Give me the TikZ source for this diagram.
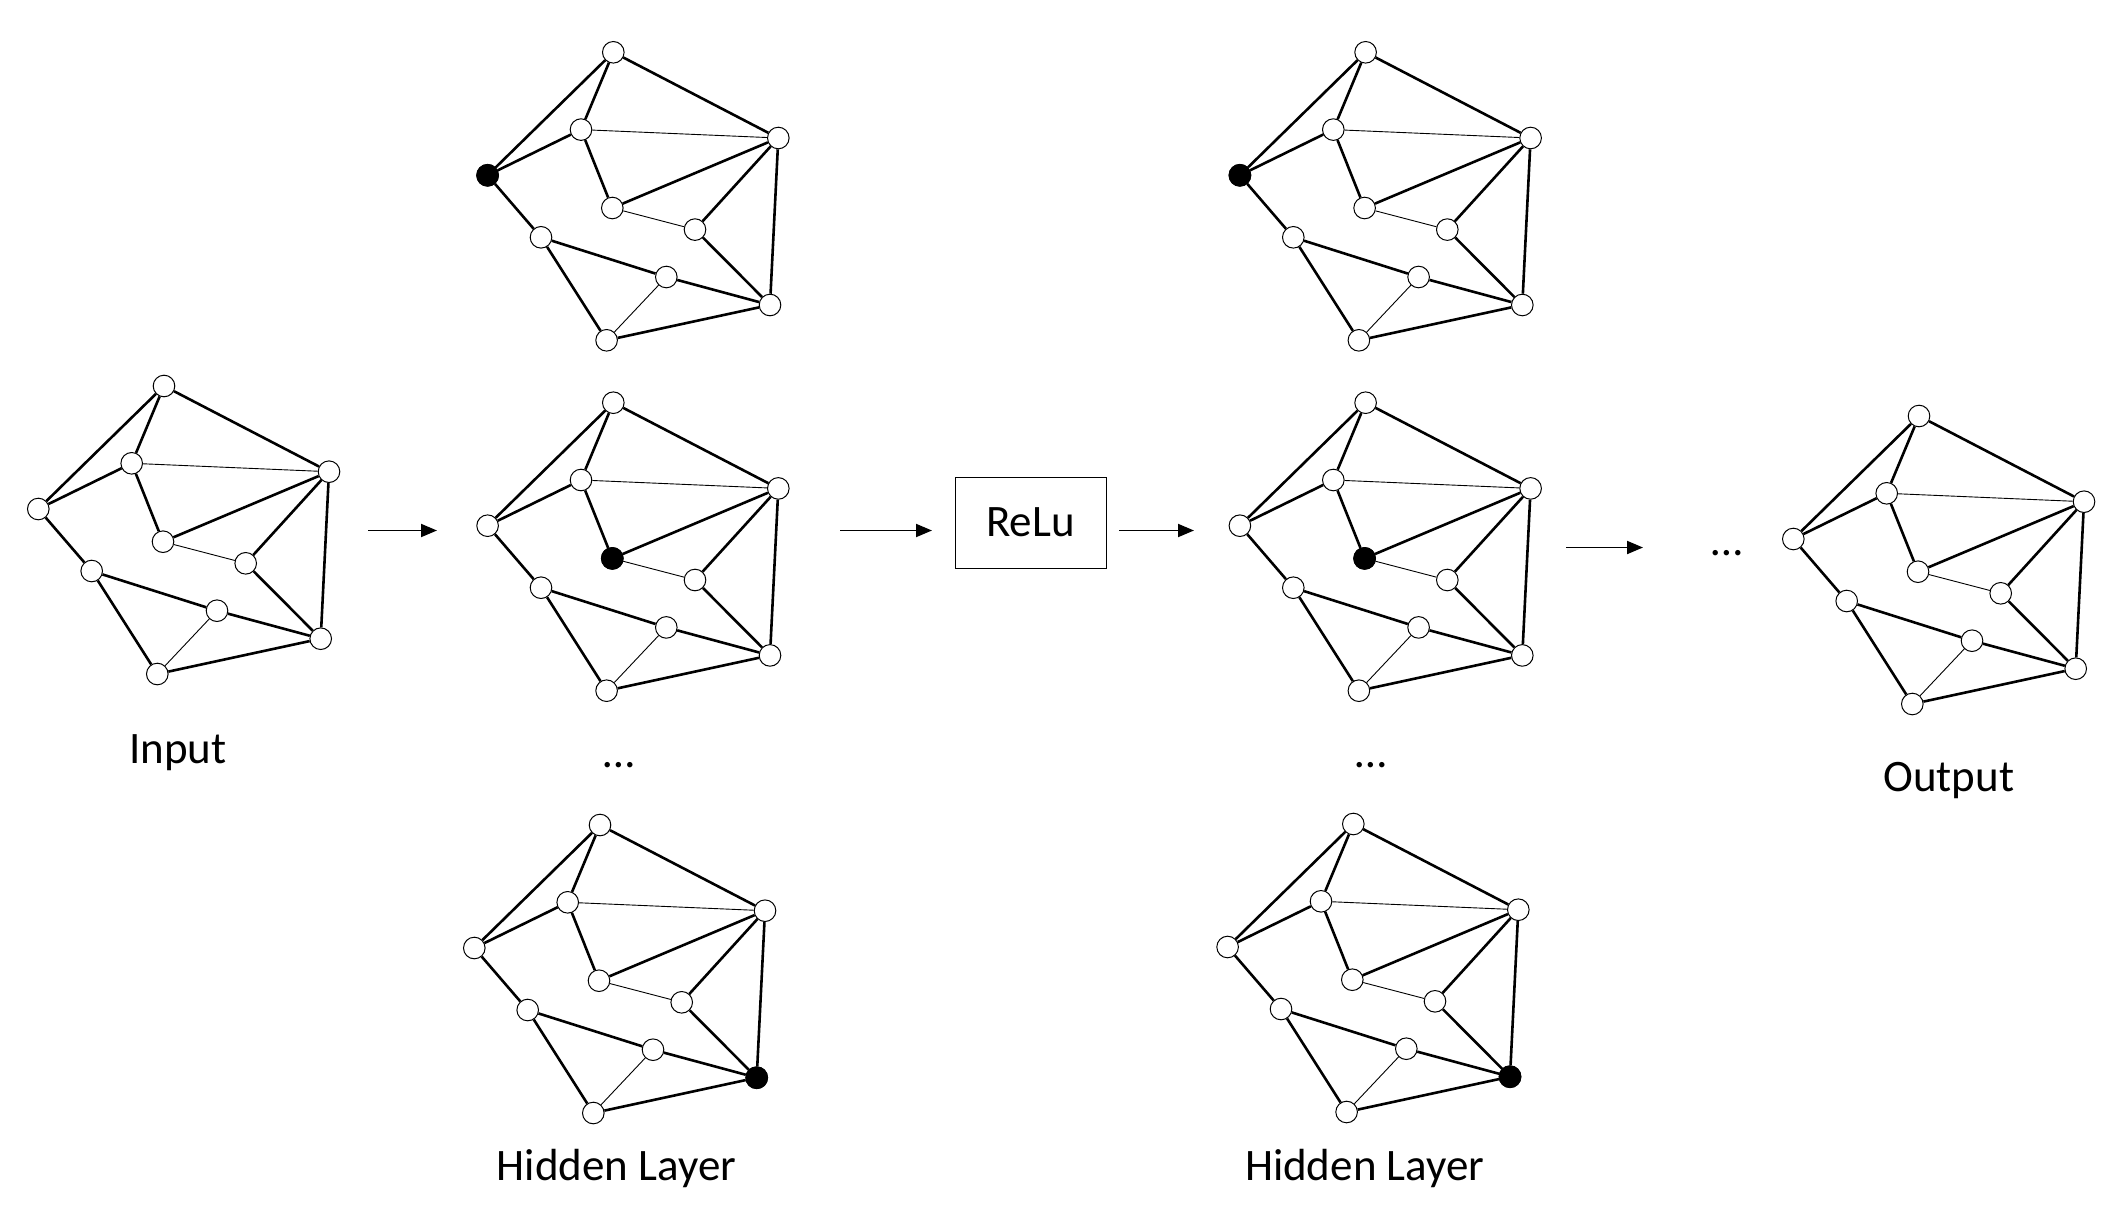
\documentclass[tikz,border=0pt]{standalone}
\usepackage{fontspec}
\setmainfont{Carlito}
\usetikzlibrary{arrows.meta}
\tikzset{
  gnode/.style={circle,draw,fill=white,line width=0.5pt,minimum size=10.8pt,inner sep=0pt},
  gthick/.style={line width=1.3pt},
  gthin/.style={line width=0.45pt},
  flow/.style={line width=0.95pt,-{Triangle[length=8pt,width=6.5pt]}},
  lbl/.style={font=\fontsize{22.5pt}{27pt}\selectfont,inner sep=0pt,anchor=base},
  blacknode/.style={fill=black},
}
\newcommand\gnet[3]{%
  \begin{scope}[shift={(#2,#3)}]
    \foreach \n/\px/\py in {A/164/386,B/131.7/463.3,C/38.3/509,D/329/471.7,E/163/541.7,F/245.7/563.3,G/91.7/571,H/217/610.7,I/320.7/638.7,J/157.3/674}
      \node[gnode] (#1\n) at (\px,\py) {};
  \end{scope}
  \foreach \a/\b in {A/C,A/B,A/D,B/C,B/E,E/D,D/F,D/I,C/G,G/H,G/J,H/I,F/I,J/I}
    \draw[gthick] (#1\a) -- (#1\b);
  \foreach \a/\b in {B/D,E/F,H/J}
    \draw[gthin] (#1\a) -- (#1\b);
}
\begin{document}
\begin{tikzpicture}[x=0.5pt,y=-0.5pt]
\useasboundingbox (0,0) rectangle (2125,1215);
% graphs
\gnet{in}{0}{0}
\gnet{hat}{449.3}{-333.7}
\gnet{ham}{449.3}{16.7}
\gnet{hab}{436}{439}
\gnet{hbt}{1201.6}{-333.7}
\gnet{hbm}{1201.6}{16.7}
\gnet{hbb}{1189.3}{438}
\gnet{out}{1755}{30}
% highlighted nodes
\fill[blacknode] (hatC) circle[radius=5.7pt];
\fill[blacknode] (hamE) circle[radius=5.7pt];
\fill[blacknode] (habI) circle[radius=5.7pt];
\fill[blacknode] (hbtC) circle[radius=5.7pt];
\fill[blacknode] (hbmE) circle[radius=5.7pt];
\fill[blacknode] (hbbI) circle[radius=5.7pt];
% ReLu box
\node[draw,line width=0.5pt,minimum width=75.5pt,minimum height=45.5pt,inner sep=0pt,
      font=\fontsize{22.5pt}{27pt}\selectfont] (relu) at (1030.5,522.7) {ReLu};
% arrows
\coordinate (a1s) at (368,530.5);  \coordinate (a1e) at (437,530.5);
\coordinate (a2s) at (840,530.5);  \coordinate (a2e) at (932,530.5);
\coordinate (a3s) at (1119,530.5); \coordinate (a3e) at (1194,530.5);
\coordinate (a4s) at (1566,547.5); \coordinate (a4e) at (1643,547.5);
\draw[flow] (a1s) -- (a1e);
\draw[flow] (a2s) -- (a2e);
\draw[flow] (a3s) -- (a3e);
\draw[flow] (a4s) -- (a4e);
% labels
\node[lbl] (lin) at (178,763.3) {Input};
\node[lbl] (lout) at (1948.7,791.7) {Output};
\node[lbl] (lh1) at (616.6,1180) {Hidden Layer};
\node[lbl] (lh2) at (1364.7,1180) {Hidden Layer};
\node[lbl] (d1) at (619,767) {…};
\node[lbl] (d2) at (1371.5,767) {…};
\node[lbl] (d3) at (1726.7,555) {…};
\end{tikzpicture}
\end{document}
